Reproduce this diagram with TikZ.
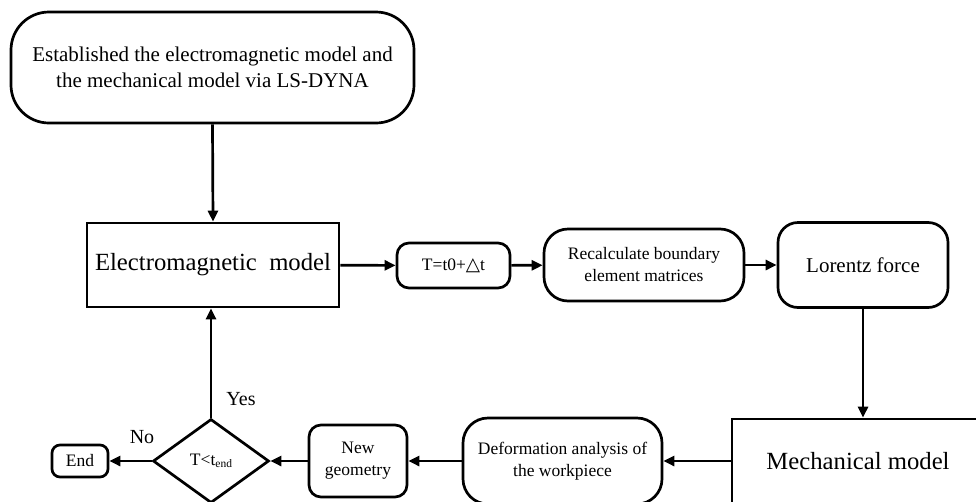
\documentclass[tikz,border=0pt]{standalone}
\usepackage{fontspec}
\setmainfont{Liberation Serif}
\newfontfamily\dejavu{DejaVu Sans}
\usetikzlibrary{shapes.geometric,arrows.meta}
\newcommand\fsz[2]{\fontsize{#1}{#2}\selectfont}
\begin{document}
\begin{tikzpicture}[x=1pt,y=-1pt,line width=2.7pt,
  rbox/.style={draw, rounded corners=#1, inner sep=0pt, align=center},
  sbox/.style={draw, inner sep=0pt, align=center},
  arr/.style={-{Triangle[length=11pt,width=10pt]}, line width=2.7pt},
  lbl/.style={inner sep=0pt, font=\fsz{20}{24}}]
\useasboundingbox (0,0) rectangle (976,501);
\clip (0,0) rectangle (976,501);
\node[rbox=38pt, minimum width=403pt, minimum height=111pt, font=\fsz{21}{26}] (top) at (212.5,67.5)
  {Established the electromagnetic model and\\the mechanical model via LS-DYNA};
\node[sbox, minimum width=252pt, minimum height=84pt, font=\fsz{24.7}{30}] (em) at (213,265)
  {Electromagnetic\ \ model};
\node[rbox=12pt, minimum width=113pt, minimum height=45pt, font=\fsz{17.5}{21}] (t) at (453.5,265.5)
  {T=t0+{\dejavu\fsz{18.5}{21}△}t};
\node[rbox=24pt, minimum width=200pt, minimum height=72pt, font=\fsz{17.5}{22}] (rec) at (644,265)
  {Recalculate boundary\\element matrices};
\node[rbox=20pt, minimum width=170pt, minimum height=85pt, font=\fsz{21}{26}] (lor) at (863,265)
  {Lorentz force};
\node[sbox, minimum width=252pt, minimum height=84pt, font=\fsz{24.7}{30}] (mech) at (858,461)
  {Mechanical model};
\node[rbox=25pt, minimum width=199pt, minimum height=86pt, font=\fsz{17.5}{22}] (def) at (562.5,461)
  {Deformation analysis of\\the workpiece};
\node[rbox=12pt, minimum width=98pt, minimum height=72pt, font=\fsz{17.5}{22}] (geo) at (358,461)
  {New\\geometry};
\node[draw, diamond, inner sep=0pt, minimum width=116pt, minimum height=84pt, font=\fsz{17.5}{21}] (dia) at (211,461)
  {T\textless t\raisebox{-1.5pt}{\fsz{11.5}{14}end}};
\node[rbox=8pt, minimum width=56pt, minimum height=32pt, font=\fsz{17.5}{21}] (end) at (80,461)
  {End};
\node[lbl] (yes) at (241,399) {Yes};
\node[lbl] (no) at (142,437) {No};
\draw[arr] (top.south) -- (em.north);
\draw[arr] (em) -- (t);
\draw[arr] (t) -- (rec);
\draw[arr] (rec) -- (lor);
\draw[arr] (lor.south) -- (lor.south |- mech.north);
\draw[arr] (mech) -- (def);
\draw[arr] (def) -- (geo);
\draw[arr] (geo) -- (dia);
\draw[arr] (dia) -- (end);
\draw[arr] (dia.north) -- (dia.north |- em.south);
\end{tikzpicture}
\end{document}
